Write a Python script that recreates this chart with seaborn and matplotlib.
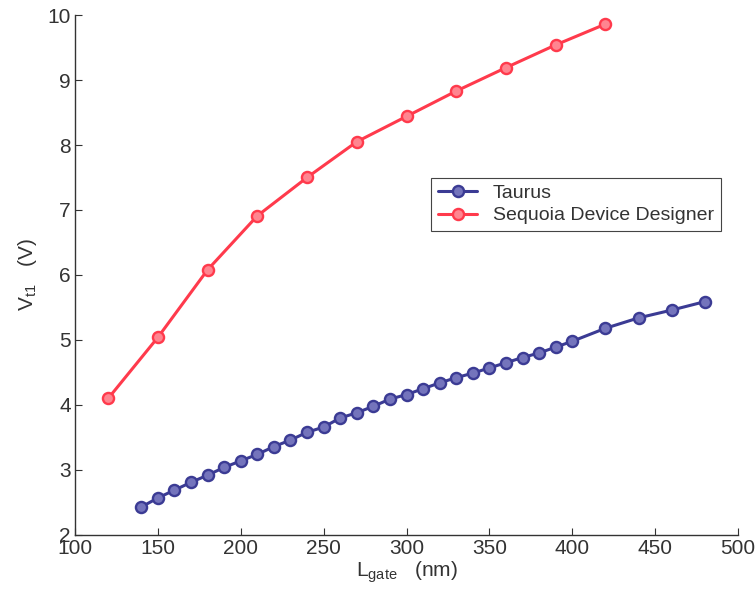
import matplotlib
matplotlib.use("Agg")
import matplotlib.pyplot as plt
import seaborn as sns
import pandas as pd

# Taurus simulation
taurus_lgate = [140, 150, 160, 170, 180, 190, 200, 210, 220, 230, 240, 250, 260, 270,
                280, 290, 300, 310, 320, 330, 340, 350, 360, 370, 380, 390, 400,
                420, 440, 460, 480]
taurus_vt1 = [2.43, 2.57, 2.69, 2.81, 2.92, 3.04, 3.14, 3.24, 3.36, 3.46, 3.58, 3.66,
              3.80, 3.88, 3.98, 4.09, 4.16, 4.25, 4.34, 4.42, 4.49, 4.57, 4.65, 4.73,
              4.80, 4.89, 4.98, 5.18, 5.34, 5.46, 5.59]

# Sequoia Device Designer
sequoia_lgate = [120, 150, 180, 210, 240, 270, 300, 330, 360, 390, 420]
sequoia_vt1 = [4.10, 5.04, 6.08, 6.91, 7.50, 8.05, 8.44, 8.83, 9.19, 9.54, 9.86]

x_ticks = [100, 150, 200, 250, 300, 350, 400, 450, 500]
y_ticks = [2, 3, 4, 5, 6, 7, 8, 9, 10]

sns.set_style("ticks")
plt.rcParams["font.family"] = ["Liberation Sans", "DejaVu Sans"]

fig = plt.figure(figsize=(7.56, 5.98), dpi=100)
ax = fig.add_axes([0.0992, 0.1054, 0.8770, 0.8695])

df_t = pd.DataFrame({"x": taurus_lgate, "y": taurus_vt1})
df_s = pd.DataFrame({"x": sequoia_lgate, "y": sequoia_vt1})

sns.lineplot(data=df_t, x="x", y="y", ax=ax, color="#3b3b94", marker="o",
             markersize=8, markerfacecolor="#7474bc", markeredgecolor="#3b3b94",
             markeredgewidth=1.7, linewidth=2.2, label="Taurus")
sns.lineplot(data=df_s, x="x", y="y", ax=ax, color="#ff3a4c", marker="o",
             markersize=8, markerfacecolor="#ff8590", markeredgecolor="#ff3a4c",
             markeredgewidth=1.7, linewidth=2.2, label="Sequoia Device Designer")

ax.set_xlim(100, 500)
ax.set_ylim(2, 10)
ax.set_xticks(x_ticks)
ax.set_yticks(y_ticks)
ax.tick_params(direction="in", length=5, labelsize=15, colors="#333333", pad=3)
sns.despine(ax=ax)
for s in ("left", "bottom"):
    ax.spines[s].set_color("#333333")
    ax.spines[s].set_linewidth(1.0)

ax.set_xlabel(r"$\mathregular{L_{gate}}$   (nm)", fontsize=15, color="#333333", labelpad=1)
ax.set_ylabel(r"$\mathregular{V_{t1}}$   (V)", fontsize=15, color="#333333", labelpad=6)

leg = ax.legend(loc="upper left", bbox_to_anchor=(0.523, 0.706), fontsize=14,
                frameon=True, fancybox=False, framealpha=1, borderpad=0.35,
                handlelength=2.0, labelspacing=0.25)
leg.get_frame().set_edgecolor("#444444")
leg.get_frame().set_linewidth(0.8)
for t in leg.get_texts():
    t.set_color("#333333")

fig.savefig("out.png", dpi=100)
